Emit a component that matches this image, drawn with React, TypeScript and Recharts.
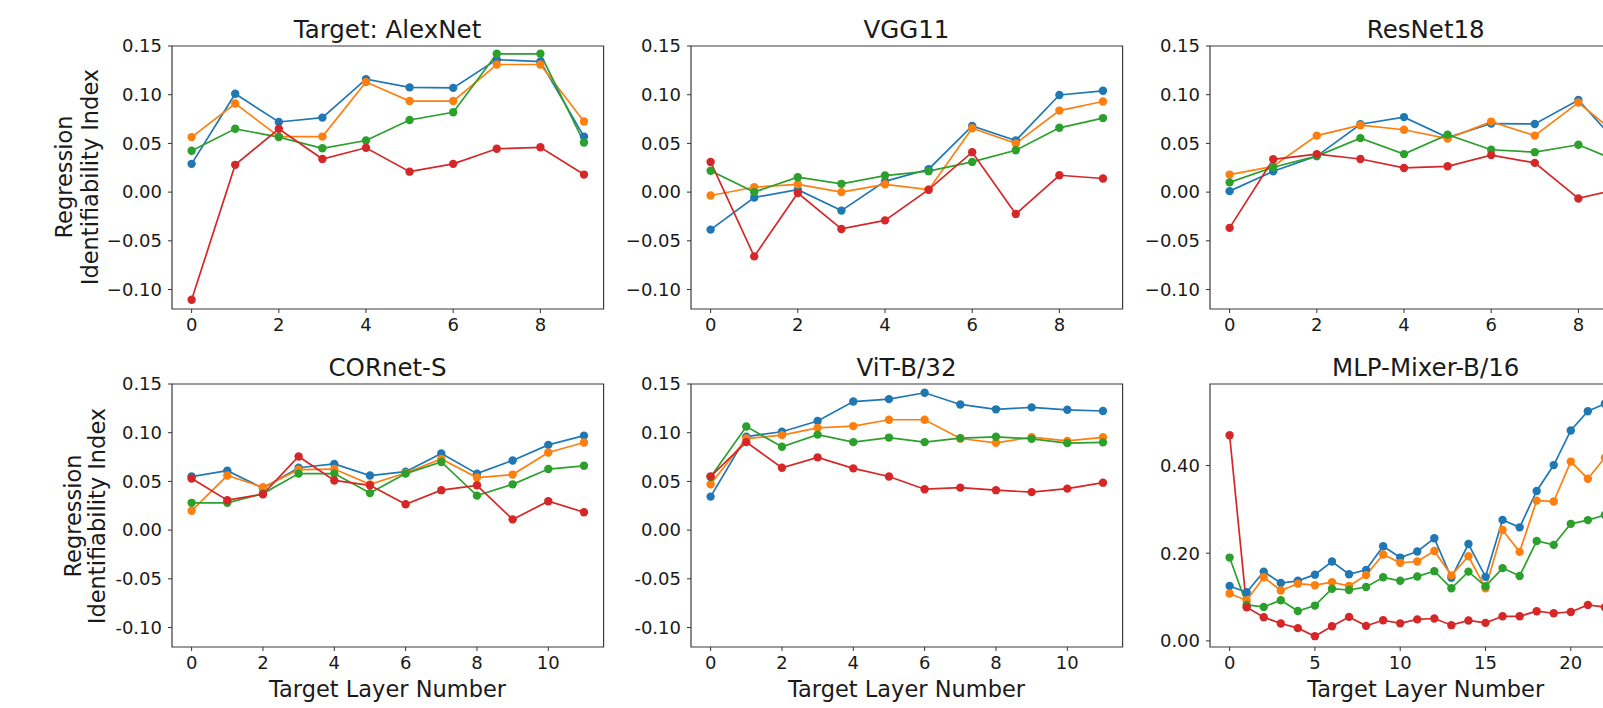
import { LineChart, Line, XAxis, YAxis, ReferenceArea } from 'recharts';

// values, one array per model / probe
const alexBlue = [0.029, 0.101, 0.072, 0.0765, 0.116, 0.1075, 0.107, 0.136, 0.134, 0.057];
const alexOrange = [0.0565, 0.091, 0.057, 0.057, 0.113, 0.0935, 0.0935, 0.131, 0.131, 0.0725];
const alexGreen = [0.0425, 0.065, 0.0565, 0.045, 0.053, 0.074, 0.082, 0.142, 0.142, 0.051];
const alexRed = [-0.1105, 0.028, 0.065, 0.034, 0.0455, 0.021, 0.029, 0.0445, 0.046, 0.018];

const vggBlue = [-0.0385, -0.0055, 0.0025, -0.019, 0.011, 0.0235, 0.068, 0.053, 0.0997, 0.104];
const vggOrange = [-0.0035, 0.005, 0.008, 0.0, 0.008, 0.0025, 0.0655, 0.05, 0.0837, 0.093];
const vggGreen = [0.022, 0.0, 0.0153, 0.0085, 0.017, 0.0215, 0.031, 0.043, 0.066, 0.076];
const vggRed = [0.031, -0.066, -0.001, -0.0378, -0.029, 0.0025, 0.041, -0.0225, 0.0173, 0.014];

const resBlue = [0.001, 0.0214, 0.037, 0.0697, 0.077, 0.056, 0.0704, 0.07, 0.0946, 0.045];
const resOrange = [0.018, 0.0265, 0.058, 0.0687, 0.064, 0.055, 0.0724, 0.058, 0.092, 0.055];
const resGreen = [0.01, 0.0255, 0.037, 0.0554, 0.039, 0.059, 0.0435, 0.041, 0.0486, 0.03];
const resRed = [-0.0367, 0.0337, 0.039, 0.034, 0.0248, 0.0265, 0.038, 0.03, -0.0065, 0.004];

const cornetBlue = [0.055, 0.061, 0.043, 0.064, 0.068, 0.056, 0.06, 0.0787, 0.058, 0.0715, 0.0875, 0.097];
const cornetOrange = [0.0198, 0.056, 0.044, 0.062, 0.0627, 0.047, 0.0586, 0.073, 0.054, 0.057, 0.0797, 0.09];
const cornetGreen = [0.028, 0.028, 0.0375, 0.058, 0.058, 0.038, 0.058, 0.07, 0.0354, 0.047, 0.0627, 0.066];
const cornetRed = [0.053, 0.0307, 0.0368, 0.0756, 0.051, 0.046, 0.0266, 0.041, 0.046, 0.011, 0.0296, 0.0184];

const vitBlue = [0.0344, 0.096, 0.101, 0.112, 0.132, 0.1345, 0.141, 0.129, 0.124, 0.126, 0.1235, 0.1223];
const vitOrange = [0.047, 0.094, 0.0975, 0.105, 0.1068, 0.1133, 0.1133, 0.094, 0.0896, 0.0954, 0.0916, 0.0953];
const vitGreen = [0.0545, 0.1063, 0.0856, 0.098, 0.0903, 0.095, 0.0903, 0.0944, 0.0958, 0.0937, 0.0893, 0.0901];
const vitRed = [0.0552, 0.0903, 0.064, 0.0747, 0.0634, 0.055, 0.042, 0.0436, 0.041, 0.039, 0.0426, 0.0487];

const mixerBlue = [0.125, 0.111, 0.158, 0.132, 0.137, 0.151, 0.181, 0.152, 0.162, 0.216, 0.19, 0.204, 0.234, 0.144, 0.221, 0.146, 0.276, 0.259, 0.342, 0.401, 0.48, 0.524, 0.541, 0.56];
const mixerOrange = [0.108, 0.092, 0.145, 0.115, 0.1305, 0.127, 0.134, 0.125, 0.15, 0.197, 0.178, 0.181, 0.205, 0.1495, 0.193, 0.12, 0.253, 0.203, 0.32, 0.318, 0.409, 0.37, 0.418, 0.45];
const mixerGreen = [0.19, 0.082, 0.0774, 0.0926, 0.068, 0.0805, 0.119, 0.116, 0.123, 0.145, 0.137, 0.147, 0.159, 0.12, 0.158, 0.1245, 0.166, 0.148, 0.228, 0.219, 0.267, 0.2755, 0.287, 0.3];
const mixerRed = [0.469, 0.0767, 0.054, 0.0396, 0.029, 0.0107, 0.0335, 0.0547, 0.0342, 0.047, 0.04, 0.049, 0.051, 0.0358, 0.0465, 0.041, 0.056, 0.056, 0.0677, 0.063, 0.066, 0.082, 0.0767, 0.075];

const ticks9 = [0, 2, 4, 6, 8];
const ticks11 = [0, 2, 4, 6, 8, 10];
const ticks23 = [0, 5, 10, 15, 20];
const riiTicks = [-0.1, -0.05, 0, 0.05, 0.1, 0.15];
const mixerTicks = [0, 0.2, 0.4];

const COLORS = ['#1f77b4', '#ff7f0e', '#2ca02c', '#d62728'];
const FONT = '"DejaVu Sans", sans-serif';
const INK = '#1a1a1a';

const PW = 431.6;
const PH = 263;
const YW = 90;
const MT = 10;
const MR = 10;
const XH = 40;

const COLS = [171.7, 690.7, 1209.9];
const ROWS = [46, 384];

const fmtUnicode = (v: number) => (v < 0 ? '\u2212' + Math.abs(v).toFixed(2) : v.toFixed(2));
const fmtHyphen = (v: number) => (v < 0 ? '-' + Math.abs(v).toFixed(2) : v.toFixed(2));

type PanelProps = {
  series: number[][];
  ticksX: number[];
  domainY: [number, number];
  ticksY: number[];
  fmt: (v: number) => string;
  left: number;
  top: number;
};

const Panel = ({ series, ticksX, domainY, ticksY, fmt, left, top }: PanelProps) => {
  const n = series[0].length - 1;
  const data = series[0].map((_, i) => ({
    layer: i,
    s0: series[0][i],
    s1: series[1][i],
    s2: series[2][i],
    s3: series[3][i],
  }));
  const xDomain: [number, number] = [-0.05 * n, 1.05 * n];
  const tick = { fontSize: 18, fill: INK, fontFamily: FONT };

  return (
    <div style={{ position: 'absolute', left: left - YW, top: top - MT }}>
      <LineChart
        width={YW + PW + MR}
        height={MT + PH + XH}
        data={data}
        margin={{ top: MT, right: MR, left: 0, bottom: 0 }}
      >
        <XAxis
          dataKey="layer"
          type="number"
          domain={xDomain}
          ticks={ticksX}
          interval={0}
          height={XH}
          tick={tick}
          tickSize={4}
          tickMargin={5}
          axisLine={false}
          tickLine={{ stroke: '#333' }}
        />
        <YAxis
          type="number"
          domain={domainY}
          ticks={ticksY}
          interval={0}
          width={YW}
          tick={tick}
          tickFormatter={fmt}
          tickSize={4}
          tickMargin={6}
          axisLine={false}
          tickLine={{ stroke: '#333' }}
        />
        <ReferenceArea
          x1={xDomain[0]}
          x2={xDomain[1]}
          y1={domainY[0]}
          y2={domainY[1]}
          fill="none"
          stroke="#3a3a3a"
          strokeWidth={1.2}
        />
        {COLORS.map((c, k) => (
          <Line
            key={c}
            dataKey={`s${k}`}
            stroke={c}
            strokeWidth={1.7}
            dot={{ r: 4.2, fill: c, stroke: c, strokeWidth: 0 }}
            activeDot={false}
            isAnimationActive={false}
          />
        ))}
      </LineChart>
    </div>
  );
};

const titles = [
  ['Target: AlexNet', 'VGG11', 'ResNet18'],
  ['CORnet-S', 'ViT-B/32', 'MLP-Mixer-B/16'],
];

export default function App() {
  const rii: [number, number] = [-0.12, 0.15];
  return (
    <div
      style={{
        position: 'absolute',
        left: 0,
        top: 0,
        width: 1603,
        height: 708,
        overflow: 'hidden',
        background: '#fff',
      }}
    >
      <Panel series={[alexBlue, alexOrange, alexGreen, alexRed]} ticksX={ticks9} domainY={rii} ticksY={riiTicks} fmt={fmtUnicode} left={COLS[0]} top={ROWS[0]} />
      <Panel series={[vggBlue, vggOrange, vggGreen, vggRed]} ticksX={ticks9} domainY={rii} ticksY={riiTicks} fmt={fmtUnicode} left={COLS[1]} top={ROWS[0]} />
      <Panel series={[resBlue, resOrange, resGreen, resRed]} ticksX={ticks9} domainY={rii} ticksY={riiTicks} fmt={fmtUnicode} left={COLS[2]} top={ROWS[0]} />
      <Panel series={[cornetBlue, cornetOrange, cornetGreen, cornetRed]} ticksX={ticks11} domainY={rii} ticksY={riiTicks} fmt={fmtHyphen} left={COLS[0]} top={ROWS[1]} />
      <Panel series={[vitBlue, vitOrange, vitGreen, vitRed]} ticksX={ticks11} domainY={rii} ticksY={riiTicks} fmt={fmtHyphen} left={COLS[1]} top={ROWS[1]} />
      <Panel series={[mixerBlue, mixerOrange, mixerGreen, mixerRed]} ticksX={ticks23} domainY={[-0.014, 0.586]} ticksY={mixerTicks} fmt={fmtHyphen} left={COLS[2]} top={ROWS[1]} />

      <svg width={1603} height={708} style={{ position: 'absolute', left: 0, top: 0, pointerEvents: 'none' }}>
        <g fontFamily={FONT} fill={INK}>
          {titles.map((row, r) =>
            row.map((t, c) => (
              <text key={t} x={COLS[c] + PW / 2} y={r === 0 ? 37.5 : 376} fontSize={24.5} textAnchor="middle">
                {t}
              </text>
            ))
          )}
          {COLS.map((cx) => (
            <text key={cx} x={cx + PW / 2} y={697} fontSize={22.5} textAnchor="middle">
              Target Layer Number
            </text>
          ))}
          <text transform="translate(72.3,177) rotate(-90)" fontSize={22.5} textAnchor="middle">Regression</text>
          <text transform="translate(97.5,177) rotate(-90)" fontSize={22.5} textAnchor="middle">Identifiability Index</text>
          <text transform="translate(81,516) rotate(-90)" fontSize={22.5} textAnchor="middle">Regression</text>
          <text transform="translate(105,516) rotate(-90)" fontSize={22.5} textAnchor="middle">Identifiability Index</text>
        </g>
      </svg>
    </div>
  );
}
